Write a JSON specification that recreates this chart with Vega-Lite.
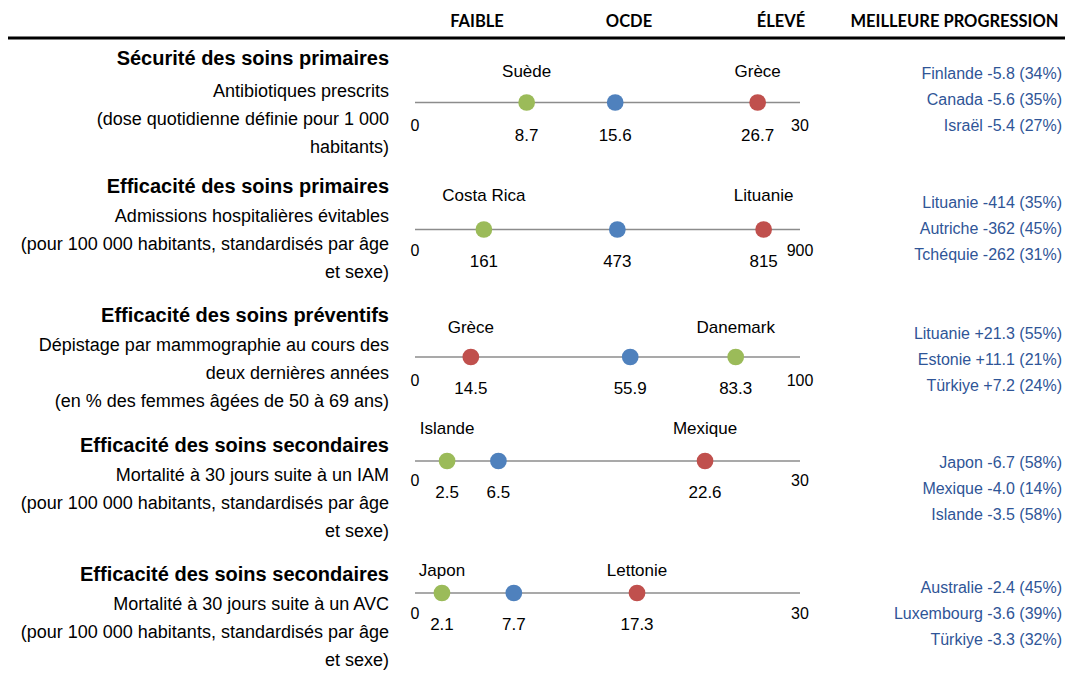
{
  "$schema": "https://vega.github.io/schema/vega-lite/v6.json",
  "padding": 0,
  "background": "white",
  "spacing": 0,
  "config": {
    "font": "Liberation Sans",
    "view": {"stroke": null},
    "style": {
      "hdr": {"font": "Lato", "fontSize": 16.5, "fontWeight": "bold", "align": "center", "baseline": "middle", "color": "#000000"},
      "lt": {"font": "Liberation Sans", "fontSize": 20, "fontWeight": "bold", "align": "right", "baseline": "middle", "color": "#000000"},
      "lb": {"font": "Liberation Sans", "fontSize": 18, "align": "right", "baseline": "middle", "lineBreak": "\n", "lineHeight": 28, "color": "#000000"},
      "rt": {"font": "Liberation Sans", "fontSize": 16, "align": "right", "baseline": "middle", "lineBreak": "\n", "lineHeight": 26, "color": "#2F5597"},
      "lab": {"font": "Liberation Sans", "fontSize": 17, "align": "center", "baseline": "middle", "color": "#000000"},
      "end": {"font": "Liberation Sans", "fontSize": 16, "align": "center", "baseline": "middle", "color": "#000000"}
    }
  },
  "vconcat": [
    {
      "spacing": 0,
      "bounds": "flush",
      "hconcat": [
        {"width": 401, "height": 36, "data": {"values": [{"t": ""}]}, "mark": {"type": "text"}, "encoding": {"text": {"field": "t"}}},
        {"width": 456, "height": 36, "data": {"values": [{"h": "FAIBLE"}, {"h": "OCDE"}, {"h": "ÉLEVÉ"}]},
         "mark": {"type": "text", "style": "hdr", "dy": 4},
         "encoding": {"x": {"field": "h", "type": "ordinal", "sort": null, "scale": {"type": "point", "padding": 0.5}, "axis": null}, "text": {"field": "h"}}},
        {"width": 195, "height": 36, "data": {"values": [{"h": "MEILLEURE PROGRESSION"}]},
         "mark": {"type": "text", "style": "hdr", "dy": 4},
         "encoding": {"text": {"field": "h"}}}
      ]
    },
    {
      "width": 1057, "height": 4,
      "data": {"values": [{"a": 0, "b": 1}]},
      "mark": {"type": "rule", "color": "#000000", "strokeWidth": 3, "xOffset": 8, "x2Offset": 8},
      "encoding": {"x": {"field": "a", "type": "quantitative", "scale": {"domain": [0, 1]}, "axis": null}, "x2": {"field": "b"}}
    },
    {
      "spacing": 26,
      "bounds": "flush",
      "hconcat": [
        {"width": 389, "height": 125,
         "data": {"values": [{"titre": "Sécurité des soins primaires", "texte": "Antibiotiques prescrits\n(dose quotidienne définie pour 1 000\nhabitants)"}]},
         "layer": [
           {"mark": {"type": "text", "style": "lt", "dy": -43.5}, "encoding": {"x": {"value": "width"}, "text": {"field": "titre"}}},
           {"mark": {"type": "text", "style": "lb", "dy": -10.5}, "encoding": {"x": {"value": "width"}, "text": {"field": "texte"}}}
         ]},
        {"width": 385, "height": 125,
         "data": {"values": [
           {"pays": "Suède", "valeur": 8.7, "perf": "meilleur"},
           {"pays": "", "valeur": 15.6, "perf": "OCDE"},
           {"pays": "Grèce", "valeur": 26.7, "perf": "pire"}
         ]},
         "layer": [
           {"data": {"values": [{"debut": 0, "fin": 30}]}, "mark": {"type": "rule", "color": "#8C8C8C", "strokeWidth": 1.6},
            "encoding": {"x": {"field": "debut", "type": "quantitative", "scale": {"domain": [0, 30], "nice": false}, "axis": null}, "x2": {"field": "fin"}}},
           {"data": {"values": [{"borne": 0}, {"borne": 30}]}, "mark": {"type": "text", "style": "end", "dy": 23},
            "encoding": {"x": {"field": "borne", "type": "quantitative", "scale": {"domain": [0, 30], "nice": false}, "axis": null}, "text": {"field": "borne", "type": "quantitative", "format": "d"}}},
           {"mark": {"type": "circle", "size": 280, "opacity": 1},
            "encoding": {"x": {"field": "valeur", "type": "quantitative", "scale": {"domain": [0, 30], "nice": false}, "axis": null},
              "color": {"field": "perf", "type": "nominal", "scale": {"domain": ["meilleur", "OCDE", "pire"], "range": ["#9BBB59", "#4F81BD", "#C0504D"]}, "legend": null}}},
           {"mark": {"type": "text", "style": "lab", "dy": -30.5},
            "encoding": {"x": {"field": "valeur", "type": "quantitative", "scale": {"domain": [0, 30], "nice": false}, "axis": null}, "text": {"field": "pays"}}},
           {"mark": {"type": "text", "style": "lab", "dy": 33.5},
            "encoding": {"x": {"field": "valeur", "type": "quantitative", "scale": {"domain": [0, 30], "nice": false}, "axis": null}, "text": {"field": "valeur", "type": "quantitative", "format": ".1f"}}}
         ]},
        {"width": 236, "height": 125,
         "data": {"values": [{"prog": "Finlande -5.8 (34%)\nCanada -5.6 (35%)\nIsraël -5.4 (27%)"}]},
         "mark": {"type": "text", "style": "rt", "dy": -28.5},
         "encoding": {"x": {"value": "width"}, "text": {"field": "prog"}}}
      ]
    },
    {
      "spacing": 26,
      "bounds": "flush",
      "hconcat": [
        {"width": 389, "height": 129,
         "data": {"values": [{"titre": "Efficacité des soins primaires", "texte": "Admissions hospitalières évitables\n(pour 100 000 habitants, standardisés par âge\net sexe)"}]},
         "layer": [
           {"mark": {"type": "text", "style": "lt", "dy": -42.5}, "encoding": {"x": {"value": "width"}, "text": {"field": "titre"}}},
           {"mark": {"type": "text", "style": "lb", "dy": -12.5}, "encoding": {"x": {"value": "width"}, "text": {"field": "texte"}}}
         ]},
        {"width": 385, "height": 129,
         "data": {"values": [
           {"pays": "Costa Rica", "valeur": 161, "perf": "meilleur"},
           {"pays": "", "valeur": 473, "perf": "OCDE"},
           {"pays": "Lituanie", "valeur": 815, "perf": "pire"}
         ]},
         "layer": [
           {"data": {"values": [{"debut": 0, "fin": 900}]}, "mark": {"type": "rule", "color": "#8C8C8C", "strokeWidth": 1.6},
            "encoding": {"x": {"field": "debut", "type": "quantitative", "scale": {"domain": [0, 900], "nice": false}, "axis": null}, "x2": {"field": "fin"}}},
           {"data": {"values": [{"borne": 0}, {"borne": 900}]}, "mark": {"type": "text", "style": "end", "dy": 21.5},
            "encoding": {"x": {"field": "borne", "type": "quantitative", "scale": {"domain": [0, 900], "nice": false}, "axis": null}, "text": {"field": "borne", "type": "quantitative", "format": "d"}}},
           {"mark": {"type": "circle", "size": 280, "opacity": 1},
            "encoding": {"x": {"field": "valeur", "type": "quantitative", "scale": {"domain": [0, 900], "nice": false}, "axis": null},
              "color": {"field": "perf", "type": "nominal", "scale": {"domain": ["meilleur", "OCDE", "pire"], "range": ["#9BBB59", "#4F81BD", "#C0504D"]}, "legend": null}}},
           {"mark": {"type": "text", "style": "lab", "dy": -33.5},
            "encoding": {"x": {"field": "valeur", "type": "quantitative", "scale": {"domain": [0, 900], "nice": false}, "axis": null}, "text": {"field": "pays"}}},
           {"mark": {"type": "text", "style": "lab", "dy": 32.5},
            "encoding": {"x": {"field": "valeur", "type": "quantitative", "scale": {"domain": [0, 900], "nice": false}, "axis": null}, "text": {"field": "valeur", "type": "quantitative", "format": "d"}}}
         ]},
        {"width": 236, "height": 129,
         "data": {"values": [{"prog": "Lituanie -414 (35%)\nAutriche -362 (45%)\nTchéquie -262 (31%)"}]},
         "mark": {"type": "text", "style": "rt", "dy": -26.5},
         "encoding": {"x": {"value": "width"}, "text": {"field": "prog"}}}
      ]
    },
    {
      "spacing": 26,
      "bounds": "flush",
      "hconcat": [
        {"width": 389, "height": 126,
         "data": {"values": [{"titre": "Efficacité des soins préventifs", "texte": "Dépistage par mammographie au cours des\ndeux dernières années\n(en % des femmes âgées de 50 à 69 ans)"}]},
         "layer": [
           {"mark": {"type": "text", "style": "lt", "dy": -41}, "encoding": {"x": {"value": "width"}, "text": {"field": "titre"}}},
           {"mark": {"type": "text", "style": "lb", "dy": -11}, "encoding": {"x": {"value": "width"}, "text": {"field": "texte"}}}
         ]},
        {"width": 385, "height": 126,
         "data": {"values": [
           {"pays": "Grèce", "valeur": 14.5, "perf": "pire"},
           {"pays": "", "valeur": 55.9, "perf": "OCDE"},
           {"pays": "Danemark", "valeur": 83.3, "perf": "meilleur"}
         ]},
         "layer": [
           {"data": {"values": [{"debut": 0, "fin": 100}]}, "mark": {"type": "rule", "color": "#8C8C8C", "strokeWidth": 1.6},
            "encoding": {"x": {"field": "debut", "type": "quantitative", "scale": {"domain": [0, 100], "nice": false}, "axis": null}, "x2": {"field": "fin"}}},
           {"data": {"values": [{"borne": 0}, {"borne": 100}]}, "mark": {"type": "text", "style": "end", "dy": 24},
            "encoding": {"x": {"field": "borne", "type": "quantitative", "scale": {"domain": [0, 100], "nice": false}, "axis": null}, "text": {"field": "borne", "type": "quantitative", "format": "d"}}},
           {"mark": {"type": "circle", "size": 280, "opacity": 1},
            "encoding": {"x": {"field": "valeur", "type": "quantitative", "scale": {"domain": [0, 100], "nice": false}, "axis": null},
              "color": {"field": "perf", "type": "nominal", "scale": {"domain": ["meilleur", "OCDE", "pire"], "range": ["#9BBB59", "#4F81BD", "#C0504D"]}, "legend": null}}},
           {"mark": {"type": "text", "style": "lab", "dy": -29},
            "encoding": {"x": {"field": "valeur", "type": "quantitative", "scale": {"domain": [0, 100], "nice": false}, "axis": null}, "text": {"field": "pays"}}},
           {"mark": {"type": "text", "style": "lab", "dy": 32},
            "encoding": {"x": {"field": "valeur", "type": "quantitative", "scale": {"domain": [0, 100], "nice": false}, "axis": null}, "text": {"field": "valeur", "type": "quantitative", "format": ".1f"}}}
         ]},
        {"width": 236, "height": 126,
         "data": {"values": [{"prog": "Lituanie +21.3 (55%)\nEstonie +11.1 (21%)\nTürkiye +7.2 (24%)"}]},
         "mark": {"type": "text", "style": "rt", "dy": -23},
         "encoding": {"x": {"value": "width"}, "text": {"field": "prog"}}}
      ]
    },
    {
      "spacing": 26,
      "bounds": "flush",
      "hconcat": [
        {"width": 389, "height": 133,
         "data": {"values": [{"titre": "Efficacité des soins secondaires", "texte": "Mortalité à 30 jours suite à un IAM\n(pour 100 000 habitants, standardisés par âge\net sexe)"}]},
         "layer": [
           {"mark": {"type": "text", "style": "lt", "dy": -40.5}, "encoding": {"x": {"value": "width"}, "text": {"field": "titre"}}},
           {"mark": {"type": "text", "style": "lb", "dy": -10.5}, "encoding": {"x": {"value": "width"}, "text": {"field": "texte"}}}
         ]},
        {"width": 385, "height": 82,
         "data": {"values": [
           {"pays": "Islande", "valeur": 2.5, "perf": "meilleur"},
           {"pays": "", "valeur": 6.5, "perf": "OCDE"},
           {"pays": "Mexique", "valeur": 22.6, "perf": "pire"}
         ]},
         "layer": [
           {"data": {"values": [{"debut": 0, "fin": 30}]}, "mark": {"type": "rule", "color": "#8C8C8C", "strokeWidth": 1.6},
            "encoding": {"x": {"field": "debut", "type": "quantitative", "scale": {"domain": [0, 30], "nice": false}, "axis": null}, "x2": {"field": "fin"}}},
           {"data": {"values": [{"borne": 0}, {"borne": 30}]}, "mark": {"type": "text", "style": "end", "dy": 20},
            "encoding": {"x": {"field": "borne", "type": "quantitative", "scale": {"domain": [0, 30], "nice": false}, "axis": null}, "text": {"field": "borne", "type": "quantitative", "format": "d"}}},
           {"mark": {"type": "circle", "size": 280, "opacity": 1},
            "encoding": {"x": {"field": "valeur", "type": "quantitative", "scale": {"domain": [0, 30], "nice": false}, "axis": null},
              "color": {"field": "perf", "type": "nominal", "scale": {"domain": ["meilleur", "OCDE", "pire"], "range": ["#9BBB59", "#4F81BD", "#C0504D"]}, "legend": null}}},
           {"mark": {"type": "text", "style": "lab", "dy": -32},
            "encoding": {"x": {"field": "valeur", "type": "quantitative", "scale": {"domain": [0, 30], "nice": false}, "axis": null}, "text": {"field": "pays"}}},
           {"mark": {"type": "text", "style": "lab", "dy": 32},
            "encoding": {"x": {"field": "valeur", "type": "quantitative", "scale": {"domain": [0, 30], "nice": false}, "axis": null}, "text": {"field": "valeur", "type": "quantitative", "format": ".1f"}}}
         ]},
        {"width": 236, "height": 133,
         "data": {"values": [{"prog": "Japon -6.7 (58%)\nMexique -4.0 (14%)\nIslande -3.5 (58%)"}]},
         "mark": {"type": "text", "style": "rt", "dy": -23.5},
         "encoding": {"x": {"value": "width"}, "text": {"field": "prog"}}}
      ]
    },
    {
      "spacing": 26,
      "bounds": "flush",
      "hconcat": [
        {"width": 389, "height": 121,
         "data": {"values": [{"titre": "Efficacité des soins secondaires", "texte": "Mortalité à 30 jours suite à un AVC\n(pour 100 000 habitants, standardisés par âge\net sexe)"}]},
         "layer": [
           {"mark": {"type": "text", "style": "lt", "dy": -38.5}, "encoding": {"x": {"value": "width"}, "text": {"field": "titre"}}},
           {"mark": {"type": "text", "style": "lb", "dy": -8.5}, "encoding": {"x": {"value": "width"}, "text": {"field": "texte"}}}
         ]},
        {"width": 385, "height": 80,
         "data": {"values": [
           {"pays": "Japon", "valeur": 2.1, "perf": "meilleur"},
           {"pays": "", "valeur": 7.7, "perf": "OCDE"},
           {"pays": "Lettonie", "valeur": 17.3, "perf": "pire"}
         ]},
         "layer": [
           {"data": {"values": [{"debut": 0, "fin": 30}]}, "mark": {"type": "rule", "color": "#8C8C8C", "strokeWidth": 1.6},
            "encoding": {"x": {"field": "debut", "type": "quantitative", "scale": {"domain": [0, 30], "nice": false}, "axis": null}, "x2": {"field": "fin"}}},
           {"data": {"values": [{"borne": 0}, {"borne": 30}]}, "mark": {"type": "text", "style": "end", "dy": 21},
            "encoding": {"x": {"field": "borne", "type": "quantitative", "scale": {"domain": [0, 30], "nice": false}, "axis": null}, "text": {"field": "borne", "type": "quantitative", "format": "d"}}},
           {"mark": {"type": "circle", "size": 280, "opacity": 1},
            "encoding": {"x": {"field": "valeur", "type": "quantitative", "scale": {"domain": [0, 30], "nice": false}, "axis": null},
              "color": {"field": "perf", "type": "nominal", "scale": {"domain": ["meilleur", "OCDE", "pire"], "range": ["#9BBB59", "#4F81BD", "#C0504D"]}, "legend": null}}},
           {"mark": {"type": "text", "style": "lab", "dy": -22},
            "encoding": {"x": {"field": "valeur", "type": "quantitative", "scale": {"domain": [0, 30], "nice": false}, "axis": null}, "text": {"field": "pays"}}},
           {"mark": {"type": "text", "style": "lab", "dy": 32},
            "encoding": {"x": {"field": "valeur", "type": "quantitative", "scale": {"domain": [0, 30], "nice": false}, "axis": null}, "text": {"field": "valeur", "type": "quantitative", "format": ".1f"}}}
         ]},
        {"width": 236, "height": 121,
         "data": {"values": [{"prog": "Australie -2.4 (45%)\nLuxembourg -3.6 (39%)\nTürkiye -3.3 (32%)"}]},
         "mark": {"type": "text", "style": "rt", "dy": -25.5},
         "encoding": {"x": {"value": "width"}, "text": {"field": "prog"}}}
      ]
    }
  ]
}
